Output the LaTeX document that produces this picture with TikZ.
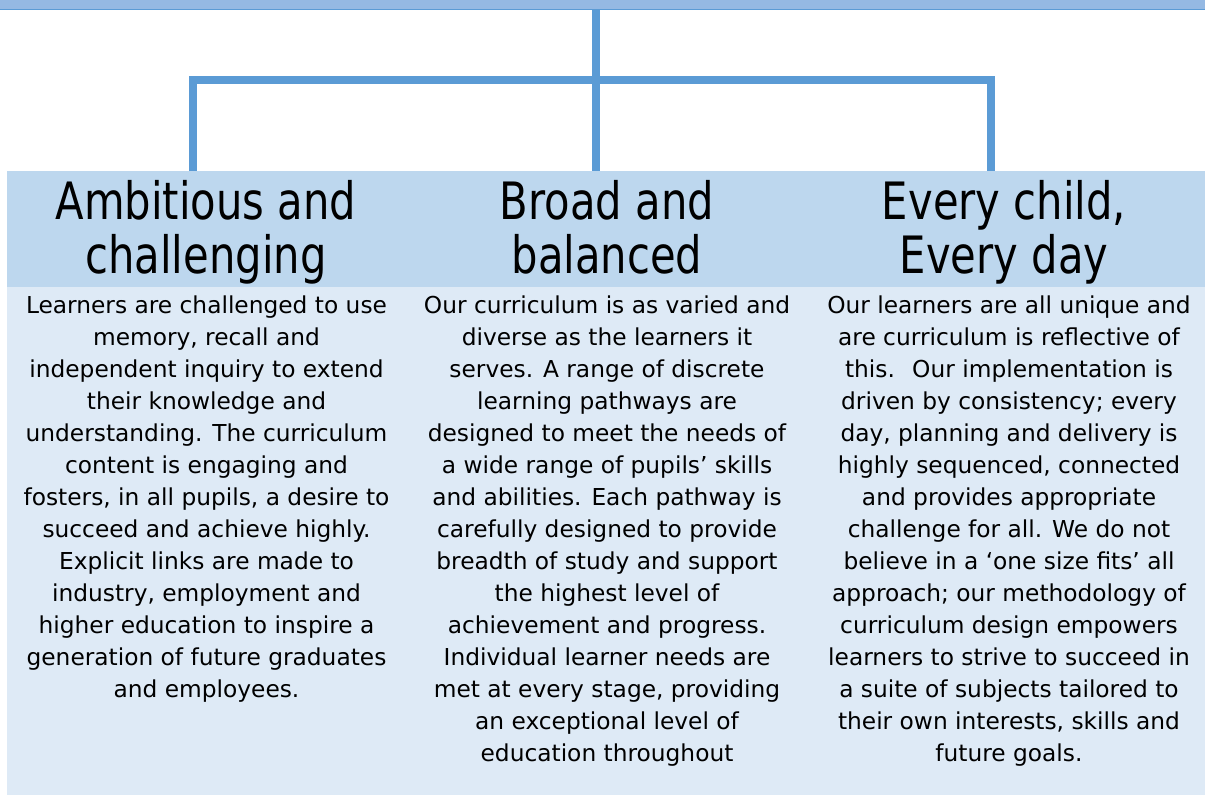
\documentclass[tikz,border=0pt]{standalone}
\usepackage{fontspec}
\setmainfont{DejaVu Sans}
\newfontfamily\headfont[FakeStretch=0.81]{DejaVu Sans}
\newfontfamily\bodyfont[FakeStretch=1.0]{DejaVu Sans}
\definecolor{linkblue}{HTML}{5B9BD5}
\definecolor{barfill}{HTML}{95B9E3}
\definecolor{headfill}{HTML}{BDD7EE}
\definecolor{bodyfill}{HTML}{DEEAF6}
\tikzset{
  headbox/.style={fill=headfill, minimum width=400pt, minimum height=116pt, inner sep=0pt, anchor=north},
  bodybox/.style={fill=bodyfill, minimum width=400pt, minimum height=508pt, inner sep=0pt, anchor=north},
  headtext/.style={align=center, inner sep=0pt, anchor=base, font=\headfont\fontsize{51.5}{54}\selectfont},
  bodytext/.style={align=center, inner sep=0pt, anchor=base, font=\bodyfont\fontsize{23.3}{32}\selectfont},
  link/.style={draw=linkblue, line width=8pt, line join=miter},
}
\begin{document}
\begin{tikzpicture}[x=1pt, y=-1pt]
\useasboundingbox (0,0) rectangle (1205,795);
% top bar
\node[fill=barfill, minimum width=1205pt, minimum height=10pt, inner sep=0pt, anchor=north west] (bar) at (0,0) {};
\draw[linkblue, line width=1.7pt] ([yshift=0.85pt]bar.south west) -- ([yshift=0.85pt]bar.south east);
% columns
\node[headbox] (h1) at (206.67,171) {};
\node[headbox] (h2) at (606,171) {};
\node[headbox] (h3) at (1005.33,171) {};
\node[bodybox] (b1) at (206.67,287) {};
\node[bodybox] (b2) at (606,287) {};
\node[bodybox] (b3) at (1005.33,287) {};
% headings (base anchor = last line)
\node[headtext] (t1) at (206,273) {Ambitious and\\challenging};
\node[headtext] (t2) at (607,273) {Broad and\\balanced};
\node[headtext] (t3) at (1004,273) {Every child,\\Every day};
% body texts (base anchor = last line)
\node[bodytext] (p1) at (206.5,697) {Learners are challenged to use\\memory, recall and\\independent inquiry to extend\\their knowledge and\\understanding. The curriculum\\content is engaging and\\fosters, in all pupils, a desire to\\succeed and achieve highly.\\Explicit links are made to\\industry, employment and\\higher education to inspire a\\generation of future graduates\\and employees.};
\node[bodytext] (p2) at (607,761) {Our curriculum is as varied and\\diverse as the learners it\\serves. A range of discrete\\learning pathways are\\designed to meet the needs of\\a wide range of pupils’ skills\\and abilities. Each pathway is\\carefully designed to provide\\breadth of study and support\\the highest level of\\achievement and progress.\\Individual learner needs are\\met at every stage, providing\\an exceptional level of\\education throughout};
\node[bodytext] (p3) at (1009,761) {Our learners are all unique and\\are curriculum is reflective of\\this.~ Our implementation is\\driven by consistency; every\\day, planning and delivery is\\highly sequenced, connected\\and provides appropriate\\challenge for all. We do not\\believe in a ‘one size fits’ all\\approach; our methodology of\\curriculum design empowers\\learners to strive to succeed in\\a suite of subjects tailored to\\their own interests, skills and\\future goals.};
% connectors
\coordinate (hub) at (595.5,80);
\coordinate (L) at (193,80);
\coordinate (R) at (991,80);
\draw[link] (hub |- bar.south) -- (hub |- h2.north);
\draw[link] (L |- h1.north) -- (L) -- (R) -- (R |- h3.north);
\end{tikzpicture}
\end{document}
